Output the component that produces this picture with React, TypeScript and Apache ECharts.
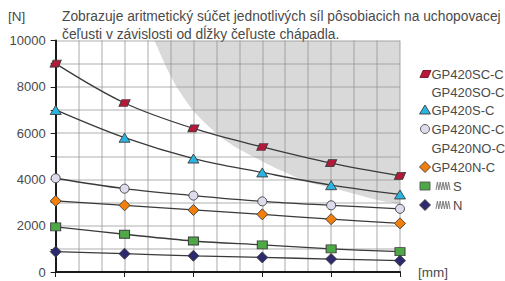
import React, { useEffect, useRef } from "react";
import * as echarts from "echarts";

const xValues = [0, 3, 6, 9, 12, 15];
const gp420SC = [9000, 7300, 6200, 5400, 4700, 4150];
const gp420S = [7000, 5800, 4900, 4300, 3750, 3350];
const gp420NC = [4050, 3600, 3300, 3050, 2880, 2730];
const gp420N = [3070, 2880, 2680, 2490, 2280, 2100];
const springS = [1950, 1630, 1340, 1170, 1000, 880];
const springN = [880, 790, 700, 630, 560, 490];

const boundaryX = [4.3, 4.9, 5.3, 6.0, 6.7, 7.3, 8.0, 9.5, 11, 12.4, 14, 15];
const boundaryY = [10000, 8680, 7950, 6950, 6250, 5750, 5300, 4530, 3890, 3540, 3110, 2940];

const titleLines = [
  "Zobrazuje aritmetický súčet jednotlivých síl pôsobiacich na uchopovacej",
  "čeľusti v závislosti od dĺžky čeľuste chápadla.",
];

const legendNames = [
  "GP420SC-C",
  "GP420SO-C",
  "GP420S-C",
  "GP420NC-C",
  "GP420NO-C",
  "GP420N-C",
  "S",
  "N",
];
const legendIcons = ["para", "", "triangle", "circle", "", "diamond", "rect", "diamond"];
const legendColors = ["#b4193a", "", "#2ab4e2", "#dcdcec", "", "#f27f0c", "#4ea845", "#2d2a6e"];
const legendSpring = [false, false, false, false, false, false, true, true];

const FONT = "'Liberation Sans', Arial, sans-serif";
const TEXT_COLOR = "#4a4a4a";
const GRID_COLOR = "rgba(150,150,150,0.5)";

function pt(x: number[], y: number[]) {
  return x.map((v, i) => [v, y[i]]);
}

function lineSeries(name: string, data: number[], symbol: string, size: any, color: string) {
  return {
    type: "line",
    name,
    data: pt(xValues, data),
    smooth: 0.35,
    symbol,
    symbolSize: size,
    showSymbol: true,
    lineStyle: { color: "#3a3a3a", width: 1.3 },
    itemStyle: { color, borderColor: "#3c3c3c", borderWidth: 0.9 },
    z: 3,
  };
}

const PARA = "path://M3,0 L11,0 L8,6 L0,6 Z";

function legendIcon(kind: string, color: string, cx: number, cy: number): any {
  const style = { fill: color, stroke: "#3c3c3c", lineWidth: 0.9 };
  if (kind === "para")
    return { type: "polygon", shape: { points: [[cx - 2, cy - 3.5], [cx + 6, cy - 3.5], [cx + 3, cy + 3.5], [cx - 5, cy + 3.5]] }, style: { ...style, stroke: "#7a1025" } };
  if (kind === "triangle")
    return { type: "polygon", shape: { points: [[cx, cy - 5], [cx + 5.5, cy + 4], [cx - 5.5, cy + 4]] }, style };
  if (kind === "circle") return { type: "circle", shape: { cx, cy, r: 4.5 }, style: { ...style, stroke: "#555" } };
  if (kind === "diamond")
    return { type: "polygon", shape: { points: [[cx, cy - 5.5], [cx + 5.5, cy], [cx, cy + 5.5], [cx - 5.5, cy]] }, style };
  if (kind === "rect") return { type: "rect", shape: { x: cx - 5, y: cy - 4, width: 10, height: 8 }, style: { ...style, stroke: "#555" } };
  return null;
}

function springPoints(x0: number, cy: number) {
  const pts: number[][] = [];
  for (let i = 0; i <= 10; i++) pts.push([x0 + i * 1.4, i % 2 === 0 ? cy + 4 : cy - 4]);
  return pts;
}

export default function App() {
  const ref = useRef<HTMLDivElement>(null);
  useEffect(() => {
    if (!ref.current) return;
    const chart = echarts.init(ref.current, undefined, { renderer: "svg" });
    const rowY = [74, 92, 110, 129, 148, 167, 186, 205];
    const legendGraphics: any[] = [];
    legendNames.forEach((name, i) => {
      const icon = legendIcons[i] ? legendIcon(legendIcons[i], legendColors[i], 425, rowY[i]) : null;
      if (icon) legendGraphics.push(icon);
      if (legendSpring[i]) {
        legendGraphics.push({ type: "polyline", shape: { points: springPoints(436, rowY[i]) }, style: { stroke: "#808080", lineWidth: 1, fill: null } });
      }
      legendGraphics.push({
        type: "text",
        x: legendSpring[i] ? 453 : 431.5,
        y: rowY[i],
        style: { text: name, font: `13px ${FONT}`, fill: TEXT_COLOR, verticalAlign: "middle", align: "left" },
      });
    });
    const option: any = {
      animation: false,
      grid: { left: 55.7, right: 105, top: 40.5, bottom: 9, containLabel: false },
      xAxis: {
        type: "value",
        min: 0,
        max: 15,
        interval: 3,
        z: 2,
        axisLine: { show: true, onZero: false, lineStyle: { color: "#1a1a1a", width: 2 } },
        axisTick: { show: true, length: 5, lineStyle: { color: "#1a1a1a", width: 1 } },
        axisLabel: { show: false },
        splitLine: { show: true, lineStyle: { color: GRID_COLOR, width: 1.6 } },
        minorTick: { show: false, splitNumber: 3 },
        minorSplitLine: { show: true, lineStyle: { color: GRID_COLOR, width: 1.6 } },
      },
      yAxis: {
        type: "value",
        min: 0,
        max: 10000,
        interval: 2000,
        z: 2,
        axisLine: { show: true, lineStyle: { color: "#1a1a1a", width: 2 } },
        axisTick: { show: true, length: 5, lineStyle: { color: "#1a1a1a", width: 1 } },
        minorTick: { show: true, splitNumber: 2, length: 5, lineStyle: { color: "#1a1a1a", width: 1 } },
        axisLabel: { color: TEXT_COLOR, fontSize: 13, fontFamily: FONT, margin: 10, formatter: (v: number) => String(v) },
        splitLine: { show: true, lineStyle: { color: GRID_COLOR, width: 1.6 } },
        minorSplitLine: { show: true, lineStyle: { color: GRID_COLOR, width: 1.6 } },
      },
      series: [
        {
          type: "line",
          name: "zone",
          data: pt(boundaryX, boundaryY),
          smooth: 0.2,
          symbol: "none",
          lineStyle: { width: 0 },
          areaStyle: { color: "#d9d9d9", opacity: 1, origin: "end" },
          z: -5,
          zlevel: 0,
          silent: true,
        },
        lineSeries("GP420SC-C", gp420SC, PARA, [11, 7], "#b4193a"),
        lineSeries("GP420S-C", gp420S, "triangle", [11, 9], "#2ab4e2"),
        lineSeries("GP420NC-C", gp420NC, "circle", 9, "#dcdcec"),
        lineSeries("GP420N-C", gp420N, "diamond", 11, "#f27f0c"),
        lineSeries("S", springS, "rect", [10, 8], "#4ea845"),
        lineSeries("N", springN, "diamond", 11, "#2d2a6e"),
      ],
      graphic: [
        { type: "text", x: 8, y: 16, style: { text: "[N]", font: `13.5px ${FONT}`, fill: TEXT_COLOR, verticalAlign: "middle" } },
        { type: "text", x: 62, y: 16, style: { text: titleLines[0], font: `13.8px ${FONT}`, fill: TEXT_COLOR, verticalAlign: "middle" } },
        { type: "text", x: 62, y: 34, style: { text: titleLines[1], font: `13.8px ${FONT}`, fill: TEXT_COLOR, verticalAlign: "middle" } },
        { type: "text", x: 418, y: 272, style: { text: "[mm]", font: `13.5px ${FONT}`, fill: TEXT_COLOR, verticalAlign: "middle" } },
        ...legendGraphics,
      ],
    };
    chart.setOption(option);
    return () => chart.dispose();
  }, []);
  return <div ref={ref} style={{ width: 505, height: 281, position: "absolute", left: 0, top: 0 }} />;
}
